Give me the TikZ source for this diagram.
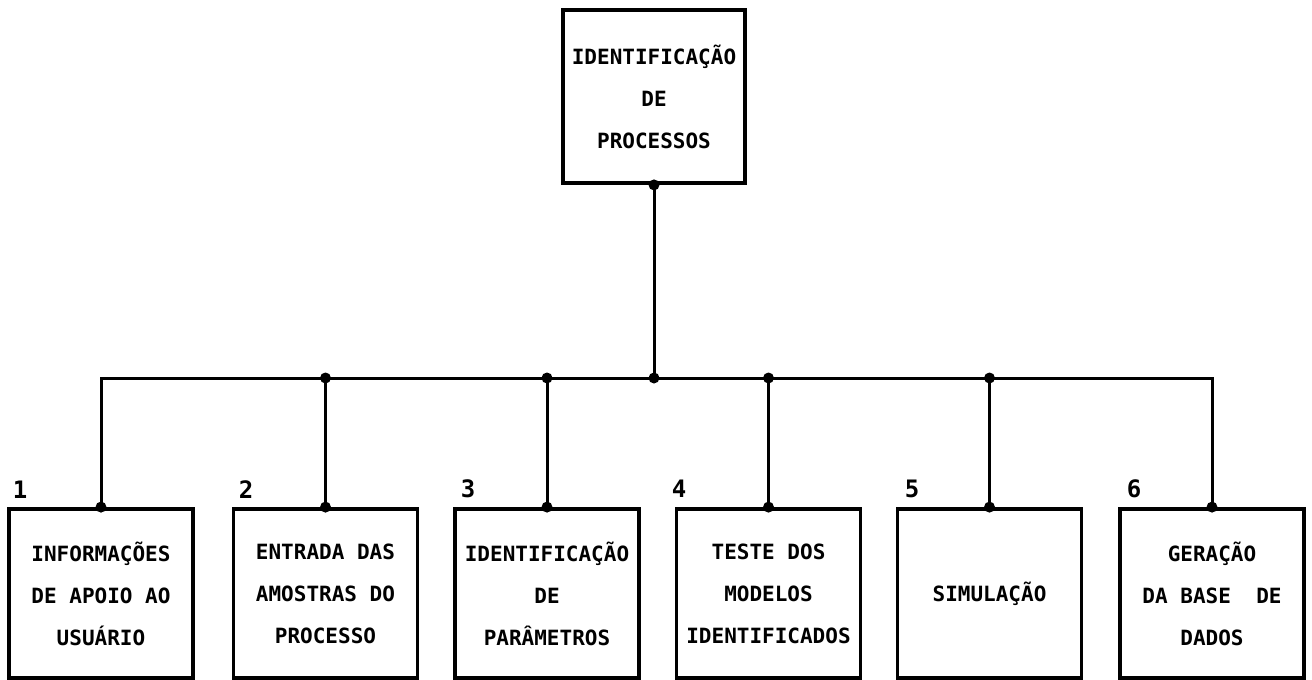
\documentclass[tikz,border=0pt]{standalone}
\usepackage{fontspec}
\setmonofont{DejaVu Sans Mono}
\begin{document}
\begin{tikzpicture}[x=1pt,y=-1pt,
  box/.style={draw,line width=3.8pt,minimum width=184pt,minimum height=169pt,
    align=center,inner sep=0pt,
    font=\ttfamily\bfseries\fontsize{21}{42}\selectfont},
  num/.style={font=\ttfamily\bfseries\fontsize{24}{26}\selectfont,inner sep=0pt},
  wire/.style={line width=3pt},
  joint/.style={circle,fill,inner sep=0pt,minimum size=11pt}]
\useasboundingbox (0,0) rectangle (1312,680);

% root of the hierarchy
\node[box,minimum width=182pt,minimum height=173pt] (top) at (654,96.5)
  {IDENTIFICAÇÃO\\DE\\PROCESSOS};

% the six sub-modules
\node[box] (b1) at (101,593.5)   {INFORMAÇÕES\\DE APOIO AO\\USUÁRIO};
\node[box] (b2) at (325.5,593.5) {ENTRADA DAS\\AMOSTRAS DO\\PROCESSO};
\node[box] (b3) at (547,593.5)   {IDENTIFICAÇÃO\\DE\\PARÂMETROS};
\node[box] (b4) at (768.5,593.5) {TESTE DOS\\MODELOS\\IDENTIFICADOS};
\node[box] (b5) at (989.5,593.5) {SIMULAÇÃO};
\node[box] (b6) at (1212,593.5)  {GERAÇÃO\\DA BASE\ \ DE\\DADOS};

% module numbers
\node[num] (n1) at (20,490)   {1};
\node[num] (n2) at (246,490)  {2};
\node[num] (n3) at (468,489)  {3};
\node[num] (n4) at (679,489)  {4};
\node[num] (n5) at (912,489)  {5};
\node[num] (n6) at (1134,489) {6};

% distribution bus
\coordinate (bus) at (654,378);
\draw[wire] (top.south) -- (bus);
\draw[wire] (b1.north) -- (b1.north |- bus) -- (b6.north |- bus) -- (b6.north);
\foreach \b in {b2,b3,b4,b5}
  \draw[wire] (\b.north) -- (\b.north |- bus);

% junction dots
\node[joint] (jt) at (top.south) {};
\node[joint] (jc) at (bus) {};
\foreach \b in {b1,b2,b3,b4,b5,b6}
  \node[joint] (j\b) at (\b.north) {};
\foreach \b in {b2,b3,b4,b5}
  \node[joint] (k\b) at (\b.north |- bus) {};
\end{tikzpicture}
\end{document}
